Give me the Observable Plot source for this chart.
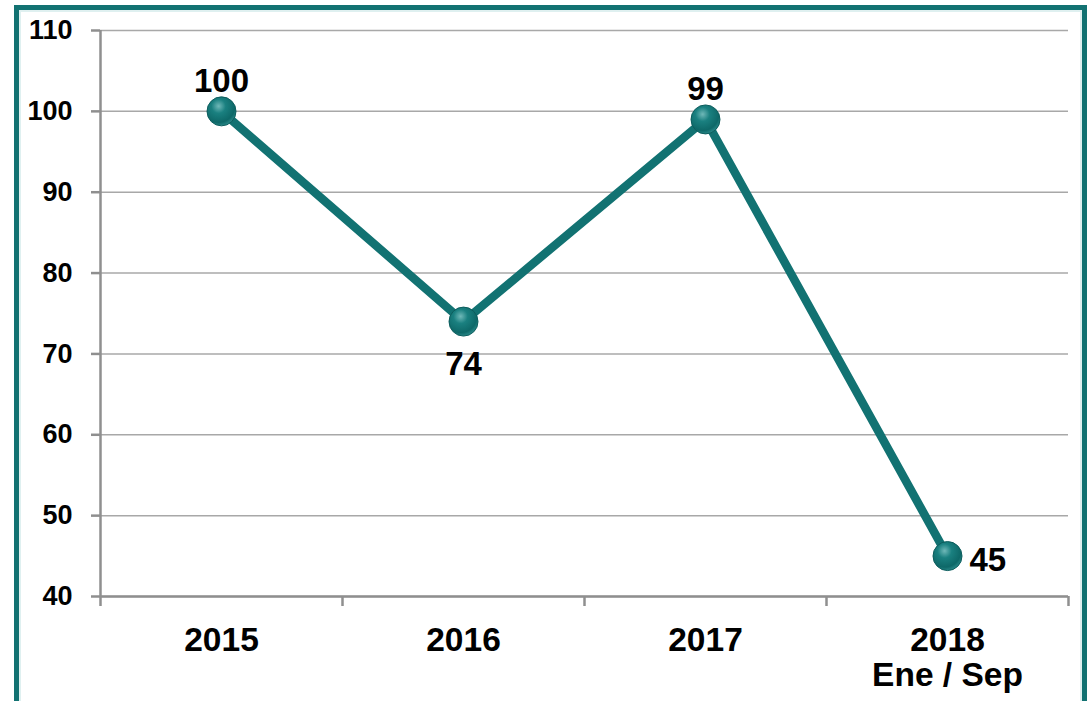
<!DOCTYPE html>
<html>
<head>
<meta charset="utf-8">
<script src="https://cdn.jsdelivr.net/npm/d3@7"></script>
<script src="https://cdn.jsdelivr.net/npm/@observablehq/plot@0.6"></script>
<style>
  html, body { margin: 0; padding: 0; background: #fff; width: 1087px; height: 701px; overflow: hidden; }
  #frame { position: absolute; left: 14px; top: 5px; width: 1073px; height: 730px; box-sizing: border-box;
           border: 5px solid #127272; box-shadow: inset 0 0 0 2px #dff0f0; }
  #chart { position: absolute; left: 0; top: 0; }
  #chart svg { background: transparent; }
</style>
</head>
<body>
<div id="frame"></div>
<div id="chart"></div>
<script>
const categories = ["2015", "2016", "2017", "2018\nEne / Sep"];
const values = [100, 74, 99, 45];
const yTicks = [40, 50, 60, 70, 80, 90, 100, 110];

const data = categories.map((c, i) => ({i, x: i + 0.5, cat: c, v: values[i]}));
const last = data.length - 1;
const boundaries = d3.range(categories.length + 1);

const teal = "#127272";
const font = "'Liberation Sans', Arial, sans-serif";

const defs = () => {
  const d = d3.create("svg:defs");
  const g = d.append("radialGradient").attr("id", "ball").attr("cx", "40%").attr("cy", "32%").attr("r", "70%");
  g.append("stop").attr("offset", "0%").attr("stop-color", "#6fb8b8");
  g.append("stop").attr("offset", "35%").attr("stop-color", "#1a8080");
  g.append("stop").attr("offset", "80%").attr("stop-color", "#0e6868");
  g.append("stop").attr("offset", "100%").attr("stop-color", "#2a8a8a");
  return d.node();
};

const chart = Plot.plot({
  width: 1087,
  height: 701,
  marginLeft: 100,
  marginRight: 19,
  marginTop: 30,
  marginBottom: 105,
  style: {fontFamily: font, background: "transparent", color: "#000"},
  x: {type: "linear", domain: [0, categories.length], axis: null},
  y: {domain: [40, 110], axis: null},
  marks: [
    defs,
    Plot.gridY(yTicks, {stroke: "#a8a8a8", strokeOpacity: 1, strokeWidth: 1.5}),
    Plot.ruleY([40], {stroke: "#8f8f8f", strokeWidth: 2.5}),
    Plot.ruleX([0], {stroke: "#8f8f8f", strokeWidth: 2.5}),
    Plot.axisY({ticks: yTicks, label: null, tickSize: 9, tickPadding: 19, stroke: "#8f8f8f", strokeWidth: 2.5,
                fill: "#000", fontSize: 27, fontWeight: "bold", tickFormat: d => String(d)}),
    Plot.axisX({ticks: boundaries, label: null, tickSize: 10, stroke: "#8f8f8f", strokeWidth: 2.5, tickFormat: () => ""}),
    Plot.text(data, {x: "x", text: "cat", frameAnchor: "bottom", dy: 29, lineAnchor: "top",
                     lineHeight: 1.06, fontSize: 33.5, fontWeight: "bold", fill: "#000"}),
    Plot.line(data, {x: "x", y: "v", stroke: teal, strokeWidth: 8.5}),
    Plot.dot(data, {x: "x", y: "v", r: 14.5, fill: "url(#ball)", stroke: "#0d5d5d", strokeWidth: 1}),
    Plot.text(data, {filter: d => d.i !== last && (d.i === 0 || d.v >= data[d.i - 1].v),
                     x: "x", y: "v", text: d => String(d.v), lineAnchor: "bottom", dy: -19,
                     fontSize: 33, fontWeight: "bold", fill: "#000"}),
    Plot.text(data, {filter: d => d.i !== last && d.i > 0 && d.v < data[d.i - 1].v,
                     x: "x", y: "v", text: d => String(d.v), lineAnchor: "top", dy: 30,
                     fontSize: 33, fontWeight: "bold", fill: "#000"}),
    Plot.text(data, {filter: d => d.i === last,
                     x: "x", y: "v", text: d => String(d.v), textAnchor: "start", lineAnchor: "middle", dx: 22, dy: 4,
                     fontSize: 33, fontWeight: "bold", fill: "#000"})
  ]
});
document.getElementById("chart").appendChild(chart);
</script>
</body>
</html>
